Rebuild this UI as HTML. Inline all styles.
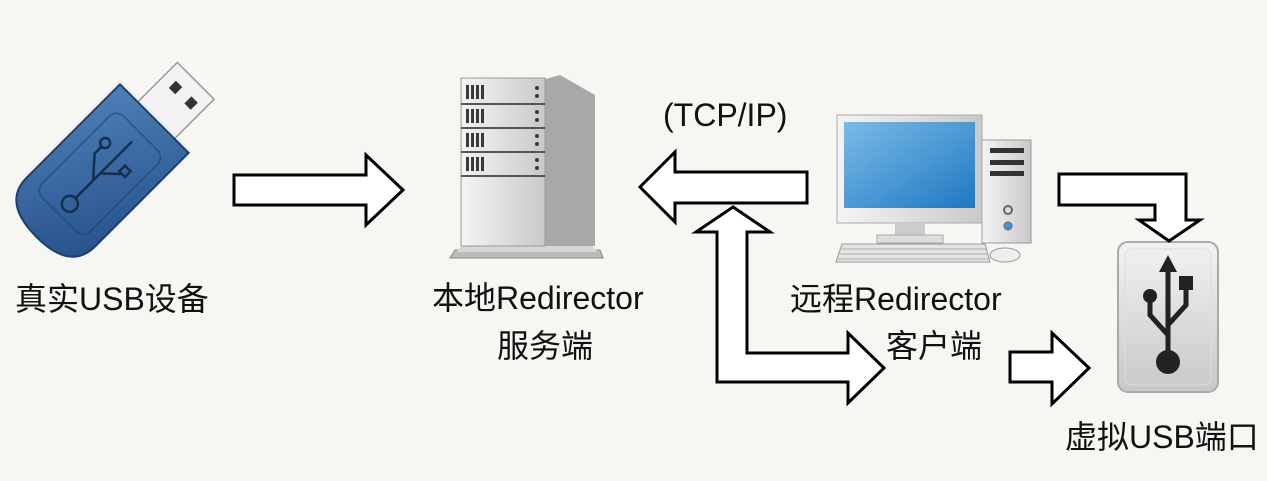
<!DOCTYPE html>
<html><head><meta charset="utf-8"><style>
html,body{margin:0;padding:0;background:#f6f6f3;}
body{width:1267px;height:481px;position:relative;overflow:hidden;font-family:"Liberation Sans","Noto Sans CJK SC",sans-serif;}
.t{position:absolute;color:#111;font-size:32px;white-space:nowrap;line-height:1;}
</style></head><body>
<svg width="1267" height="481" style="position:absolute;left:0;top:0">
<defs>
<linearGradient id="blue" x1="0" y1="0" x2="1" y2="1"><stop offset="0" stop-color="#4d7fb8"/><stop offset="1" stop-color="#254f87"/></linearGradient>
<linearGradient id="grey" x1="0" y1="0" x2="1" y2="0"><stop offset="0" stop-color="#f4f4f4"/><stop offset="1" stop-color="#c9c9c9"/></linearGradient>
<linearGradient id="scr" x1="0" y1="0" x2="1" y2="1"><stop offset="0" stop-color="#7bbbe8"/><stop offset="1" stop-color="#1f78c0"/></linearGradient>
<linearGradient id="port" x1="0" y1="0" x2="0" y2="1"><stop offset="0" stop-color="#f2f2f2"/><stop offset="1" stop-color="#c8c8c8"/></linearGradient>
</defs>
<!-- USB stick -->
<g transform="translate(108,160) rotate(45)">
<rect x="-20" y="-118" width="52" height="62" fill="#f2f2f2" stroke="#999" stroke-width="1.5"/>
<rect x="-8" y="-104" width="9" height="10" fill="#333"/><rect x="14" y="-104" width="9" height="10" fill="#333"/>
<path d="M-45,-62 L52,-62 L52,70 Q52,105 4,105 Q-45,105 -45,70 Z" fill="url(#blue)" stroke="#1d3f6b" stroke-width="2"/>
<rect x="-30" y="-42" width="68" height="115" rx="10" fill="none" stroke="#1d3f6b" stroke-width="1.5" opacity="0.6"/>
<g stroke="#14304f" stroke-width="2.5" fill="none"><line x1="4" y1="-30" x2="4" y2="50"/><circle cx="4" cy="58" r="8"/><path d="M4,25 L-14,5 L-14,-5"/><circle cx="-14" cy="-10" r="5"/><path d="M4,15 L20,0"/><rect x="16" y="-8" width="8" height="8"/></g>
</g>
<!-- Server -->
<g>
<polygon points="455,250 600,250 603,258 450,258" fill="#bbb" stroke="#888"/>
<polygon points="462,246 592,246 598,252 456,252" fill="#d6d6d6"/>
<polygon points="542,80 560,75 595,95 595,246 542,246" fill="#a8a8a8"/>
<rect x="461" y="78" width="84" height="168" fill="url(#grey)" stroke="#999"/>
<g fill="#3a3a3a">
<g id="sv"><rect x="466" y="85" width="3" height="14"/><rect x="471" y="85" width="3" height="14"/><rect x="476" y="85" width="3" height="14"/><rect x="481" y="85" width="3" height="14"/><circle cx="537" cy="88" r="2"/><circle cx="537" cy="96" r="2"/></g>
<use href="#sv" y="24"/><use href="#sv" y="48"/><use href="#sv" y="72"/>
</g>
<g stroke="#555" stroke-width="2"><line x1="461" y1="104" x2="545" y2="104"/><line x1="461" y1="128" x2="545" y2="128"/><line x1="461" y1="152" x2="545" y2="152"/><line x1="461" y1="176" x2="545" y2="176"/></g>
</g>
<!-- Computer -->
<g>
<rect x="982" y="140" width="49" height="103" fill="url(#grey)" stroke="#999"/>
<rect x="990" y="148" width="34" height="5" fill="#333"/><rect x="990" y="160" width="34" height="5" fill="#333"/><rect x="990" y="171" width="34" height="5" fill="#333"/>
<circle cx="1008" cy="210" r="4" fill="none" stroke="#666" stroke-width="2"/><circle cx="1008" cy="226" r="4" fill="#4a8fd0" stroke="#666"/>
<rect x="837" y="115" width="145" height="108" fill="url(#grey)" stroke="#aaa"/>
<rect x="844" y="122" width="131" height="86" fill="url(#scr)"/>
<rect x="895" y="223" width="30" height="14" fill="#ccc"/><rect x="877" y="235" width="66" height="8" fill="#ddd" stroke="#aaa"/>
<polygon points="842,244 985,244 990,262 836,262" fill="#e4e4e4" stroke="#999"/>
<g stroke="#aaa" stroke-width="1"><line x1="842" y1="249" x2="986" y2="249"/><line x1="840" y1="254" x2="988" y2="254"/><line x1="838" y1="259" x2="989" y2="259"/></g>
<ellipse cx="1005" cy="255" rx="15" ry="7" fill="#eee" stroke="#999"/>
</g>
<!-- USB port -->
<rect x="1118" y="242" width="100" height="150" rx="10" fill="url(#port)" stroke="#aaa" stroke-width="2"/>
<rect x="1125" y="249" width="86" height="136" rx="7" fill="none" stroke="#ddd"/>
<g fill="#222" stroke="#222">
<line x1="1168" y1="268" x2="1168" y2="365" stroke-width="5"/><polygon points="1168,255 1159,272 1177,272" stroke="none"/>
<circle cx="1168" cy="362" r="12" stroke="none"/>
<path d="M1168,335 L1150,315 L1150,300" fill="none" stroke-width="5"/><circle cx="1150" cy="296" r="7" stroke="none"/>
<path d="M1168,325 L1186,305 L1186,290" fill="none" stroke-width="5"/><rect x="1179" y="276" width="14" height="14" stroke="none"/>
</g>
<!-- Arrows -->
<g fill="#fff" stroke="#000" stroke-width="3" stroke-linejoin="miter">
<polygon points="234,175 366,175 366,155 403,190 366,225 366,205 234,205"/>
<polygon points="807,172 675,172 675,152 640,187 675,222 675,203 807,203"/>
<polygon points="733,207 770,232 747,232 747,353 848,353 848,333 884,368 848,403 848,382 717,382 717,232 696,232"/>
<polygon points="1010,352 1052,352 1052,333 1089,368 1052,404 1052,382 1010,382"/>
<polygon points="1059,174 1186,174 1186,220 1200,220 1169,241 1139,220 1155,220 1155,205 1059,205"/>
</g>
</svg>
<div class="t" style="left:15px;top:283px;">真实USB设备</div>
<div class="t" style="left:432px;top:282px;">本地Redirector</div>
<div class="t" style="left:497px;top:330px;">服务端</div>
<div class="t" style="left:663px;top:99px;">(TCP/IP)</div>
<div class="t" style="left:790px;top:283px;">远程Redirector</div>
<div class="t" style="left:886px;top:330px;">客户端</div>
<div class="t" style="left:1065px;top:421px;">虚拟USB端口</div>
</body></html>
